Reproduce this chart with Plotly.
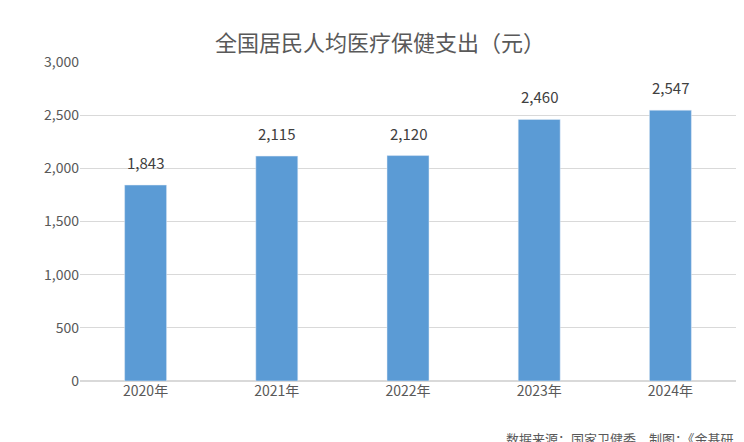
import plotly.graph_objects as go

years = ["2020年", "2021年", "2022年", "2023年", "2024年"]
values = [1843, 2115, 2120, 2460, 2547]
tick_vals = [0, 500, 1000, 1500, 2000, 2500, 3000]
tick_text = ["0", "500", "1,000", "1,500", "2,000", "2,500", "3,000"]

font = "Noto Sans CJK SC"
fig = go.Figure(go.Bar(x=years, y=values, marker_color="#5B9BD5"))
for x, v in zip(years, values):
    fig.add_annotation(x=x, y=v, text=f"{v:,}", showarrow=False, yanchor="bottom", yshift=10,
                       font=dict(size=15, color="#404040", family=font))
fig.update_layout(
    width=744, height=442, paper_bgcolor="white", plot_bgcolor="white",
    margin=dict(l=72, r=16, t=54, b=69), bargap=0.68, showlegend=False,
    title=dict(text="全国居民人均医疗保健支出（元）", x=0.5, xanchor="center", y=0.92, yanchor="middle",
               font=dict(size=22, color="#595959", family=font)),
    font=dict(family=font, color="#595959"),
)
fig.update_yaxes(range=[0, 3000], tickvals=tick_vals, ticktext=tick_text,
                 showgrid=True, gridcolor="#D9D9D9", zeroline=True, zerolinecolor="#D9D9D9",
                 tickfont=dict(size=14, color="#595959"), ticks="", ticklen=8, tickcolor="white")
fig.update_xaxes(tickfont=dict(size=14, color="#595959"), showline=False, ticks="")
fig.add_annotation(text="数据来源：国家卫健委　制图：《金基研", xref="paper", yref="paper",
                   x=1.0, y=-0.18, xanchor="right", yanchor="middle", showarrow=False,
                   font=dict(size=13, color="#595959", family=font))
fig.write_html("out.html")
